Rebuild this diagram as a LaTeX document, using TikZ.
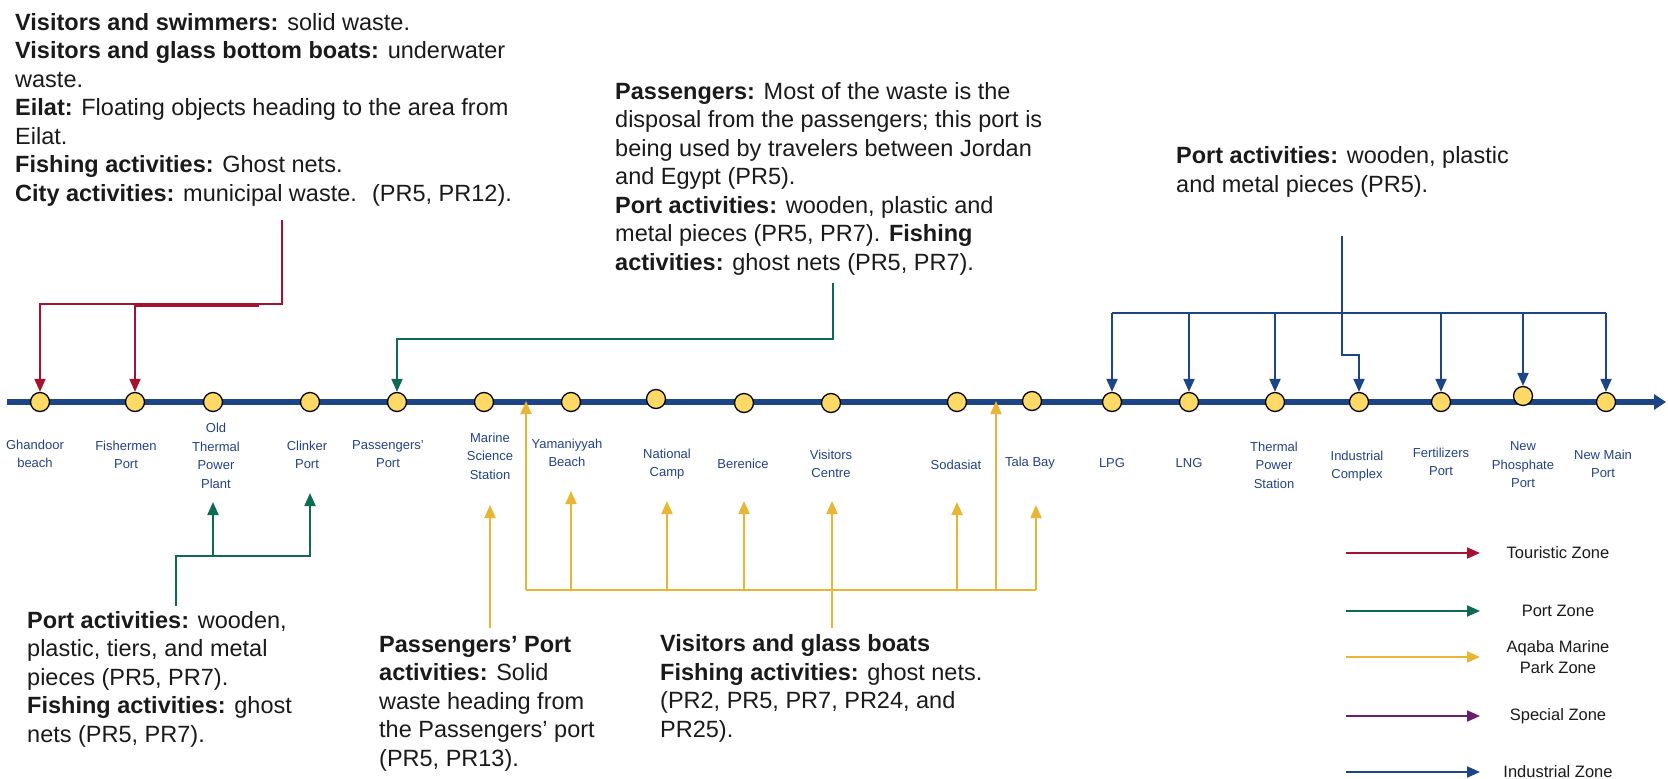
\documentclass[tikz,border=0pt]{standalone}
\usepackage{fontspec}
\setmainfont{Liberation Sans}
\usepackage{xcolor}
\usetikzlibrary{arrows.meta}

\definecolor{lineblue}{HTML}{1C4587}
\definecolor{stopfill}{HTML}{FFD966}
\definecolor{labelblue}{HTML}{23418A}
\definecolor{touristred}{HTML}{A3122F}
\definecolor{portgreen}{HTML}{0E6B53}
\definecolor{parkgold}{HTML}{E8B534}
\definecolor{specialpurple}{HTML}{6C1E6E}
\definecolor{notegrey}{HTML}{1A1A1A}

\begin{document}
\begin{tikzpicture}[x=1pt, y=-1pt,
    >={Triangle[length=13pt,width=11pt]},
    station/.style={circle, draw=black, line width=1.3pt, fill=stopfill, minimum size=19pt, inner sep=0pt},
    stationlabel/.style={align=center, text=labelblue, font=\fontsize{13}{18.5}\selectfont, inner sep=0pt},
    note/.style={align=left, anchor=base west, text=notegrey, font=\fontsize{23.5}{28.5}\selectfont, inner sep=0pt},
    keytext/.style={align=center, text=notegrey, font=\fontsize{16.5}{20.5}\selectfont, inner sep=0pt},
    zone/.style={->, line width=2pt},
    tourist/.style={zone, color=touristred},
    portzone/.style={zone, color=portgreen},
    parkzone/.style={zone, color=parkgold},
    special/.style={zone, color=specialpurple},
    industry/.style={zone, color=lineblue},
    mainline/.style={line width=6pt, color=lineblue, -{Triangle[length=12pt,width=15pt]}}]

    \useasboundingbox (0,0) rectangle (1668,779);

    % the coast line
    \coordinate (line-w) at (7,402);
    \coordinate (line-e) at (1666,402);
    \draw[mainline] (line-w) -- (line-e);

    % stations along the coast
    \node[station] (ghandoor) at (40,402) {};
    \node[station] (fisherman) at (135,402) {};
    \node[station] (oldplant) at (213,402) {};
    \node[station] (clinker) at (310,402) {};
    \node[station] (passport) at (397,402) {};
    \node[station] (marine) at (484,402) {};
    \node[station] (yamaniyyah) at (571,402) {};
    \node[station] (natcamp) at (656,399) {};
    \node[station] (berenice) at (744,403) {};
    \node[station] (visitors) at (831,403) {};
    \node[station] (sodasiat) at (957,402) {};
    \node[station] (tala) at (1032,401) {};
    \node[station] (lpg) at (1112,402) {};
    \node[station] (lng) at (1189,402) {};
    \node[station] (thermal) at (1275,402) {};
    \node[station] (industrial) at (1359,402) {};
    \node[station] (fertilizers) at (1441,402) {};
    \node[station] (phosphate) at (1523,396) {};
    \node[station] (newmain) at (1606,402) {};

    \node[stationlabel] (ghandoor-l) at (35,454) {Ghandoor\\beach};
    \node[stationlabel] (fisherman-l) at (126,455) {Fishermen\\Port};
    \node[stationlabel] (oldplant-l) at (216,456) {Old\\Thermal\\Power\\Plant};
    \node[stationlabel] (clinker-l) at (307,455) {Clinker\\Port};
    \node[stationlabel] (passport-l) at (388,454) {Passengers'\\Port};
    \node[stationlabel] (marine-l) at (490,456) {Marine\\Science\\Station};
    \node[stationlabel] (yamaniyyah-l) at (567,453) {Yamaniyyah\\Beach};
    \node[stationlabel] (natcamp-l) at (667,464) {National\\Camp};
    \node[stationlabel] (berenice-l) at (743,464) {Berenice};
    \node[stationlabel] (visitors-l) at (831,464) {Visitors\\Centre};
    \node[stationlabel] (sodasiat-l) at (956,465) {Sodasiat};
    \node[stationlabel] (tala-l) at (1030,463) {Tala Bay};
    \node[stationlabel] (lpg-l) at (1112,463) {LPG};
    \node[stationlabel] (lng-l) at (1189,463) {LNG};
    \node[stationlabel] (thermal-l) at (1274,465) {Thermal\\Power\\Station};
    \node[stationlabel] (industrial-l) at (1357,466) {Industrial\\Complex};
    \node[stationlabel] (fertilizers-l) at (1441,462) {Fertilizers\\Port};
    \node[stationlabel] (phosphate-l) at (1523,465) {New\\Phosphate\\Port};
    \node[stationlabel] (newmain-l) at (1603,464) {New Main\\Port};

    % waste sources (placed by the baseline of their last line)
    \node[note] (tourist-note) at (15,201) {\textbf{Visitors and swimmers:} solid waste.\\
        \textbf{Visitors and glass bottom boats:} underwater\\
        waste.\\
        \textbf{Eilat:} Floating objects heading to the area from\\
        Eilat.\\
        \textbf{Fishing activities:} Ghost nets.\\
        \textbf{City activities:} municipal waste.~ (PR5, PR12).};
    \node[note] (pass-note) at (615,270) {\textbf{Passengers:} Most of the waste is the\\
        disposal from the passengers; this port is\\
        being used by travelers between Jordan\\
        and Egypt (PR5).\\
        \textbf{Port activities:} wooden, plastic and\\
        metal pieces (PR5, PR7). \textbf{Fishing}\\
        \textbf{activities:} ghost nets (PR5, PR7).};
    \node[note] (indus-note) at (1176,192) {\textbf{Port activities:} wooden, plastic\\
        and metal pieces (PR5).};
    \node[note] (port-note) at (27,742) {\textbf{Port activities:} wooden,\\
        plastic, tiers, and metal\\
        pieces (PR5, PR7).\\
        \textbf{Fishing activities:} ghost\\
        nets (PR5, PR7).};
    \node[note] (ferry-note) at (379,766) {\textbf{Passengers' Port}\\
        \textbf{activities:} Solid\\
        waste heading from\\
        the Passengers' port\\
        (PR5, PR13).};
    \node[note] (park-note) at (660,737) {\textbf{Visitors and glass boats}\\
        \textbf{Fishing activities:} ghost nets.\\
        (PR2, PR5, PR7, PR24, and\\
        PR25).};

    % touristic zone
    \coordinate (tourist-out) at (282,220);
    \coordinate (tourist-split) at (259,306);
    \draw[tourist] (tourist-out) -- ++(0,84) -| (ghandoor);
    \draw[tourist] (tourist-split) -| (fisherman);

    % port zone
    \coordinate (pass-out) at (833,283);
    \draw[portzone] (pass-out) -- ++(0,56) -| (passport);
    \coordinate (port-out) at (176,606);
    \coordinate (port-bus) at (176,556);
    \coordinate (oldplant-in) at (213,502);
    \coordinate (clinker-in) at (310,493);
    \draw[portzone] (port-out) -- (port-bus) -| (clinker-in);
    \draw[portzone] (port-bus -| oldplant-in) -- (oldplant-in);

    % marine park zone
    \coordinate (bus-w) at (526,590);
    \coordinate (bus-e) at (1036,590);
    \coordinate (park-w) at (526,401);
    \coordinate (park-e) at (996,401);
    \coordinate (yamaniyyah-in) at (571,491);
    \coordinate (natcamp-in) at (667,501);
    \coordinate (berenice-in) at (744,501);
    \coordinate (visitors-in) at (832,501);
    \coordinate (sodasiat-in) at (957,502);
    \coordinate (tala-in) at (1036,505);
    \coordinate (marine-in) at (490,505);
    \coordinate (park-out) at (832,628);
    \coordinate (ferry-out) at (490,628);
    \draw[parkzone,-] (bus-w) -- (bus-e);
    \draw[parkzone] (bus-w) -- (park-w);
    \draw[parkzone] (bus-w -| park-e) -- (park-e);
    \draw[parkzone] (bus-e) -- (tala-in);
    \draw[parkzone] (bus-w -| yamaniyyah-in) -- (yamaniyyah-in);
    \draw[parkzone] (bus-w -| natcamp-in) -- (natcamp-in);
    \draw[parkzone] (bus-w -| berenice-in) -- (berenice-in);
    \draw[parkzone] (bus-w -| sodasiat-in) -- (sodasiat-in);
    \draw[parkzone] (park-out) -- (visitors-in);
    \draw[parkzone] (ferry-out) -- (marine-in);

    % industrial zone
    \coordinate (indus-out) at (1342,236);
    \coordinate (indus-bus) at (1342,313);
    \draw[industry,-] (lpg |- indus-bus) -- (newmain |- indus-bus);
    \draw[industry] (indus-out) -- ++(0,119) -| (industrial);
    \draw[industry] (lpg |- indus-bus) -- (lpg);
    \draw[industry] (lng |- indus-bus) -- (lng);
    \draw[industry] (thermal |- indus-bus) -- (thermal);
    \draw[industry] (fertilizers |- indus-bus) -- (fertilizers);
    \draw[industry] (phosphate |- indus-bus) -- (phosphate);
    \draw[industry] (newmain |- indus-bus) -- (newmain);

    % key
    \coordinate (key-w) at (1346,0);
    \coordinate (key-e) at (1480,0);
    \node[keytext] (key-tourist) at (1558,553) {Touristic Zone};
    \node[keytext] (key-port) at (1558,611) {Port Zone};
    \node[keytext] (key-park) at (1558,657) {Aqaba Marine\\Park Zone};
    \node[keytext] (key-special) at (1558,716) {Special Zone};
    \node[keytext] (key-industry) at (1558,772) {Industrial Zone};
    \draw[tourist] (key-w |- key-tourist) -- (key-e |- key-tourist);
    \draw[portzone] (key-w |- key-port) -- (key-e |- key-port);
    \draw[parkzone] (key-w |- key-park) -- (key-e |- key-park);
    \draw[special] (key-w |- key-special) -- (key-e |- key-special);
    \draw[industry] (key-w |- key-industry) -- (key-e |- key-industry);
\end{tikzpicture}
\end{document}
